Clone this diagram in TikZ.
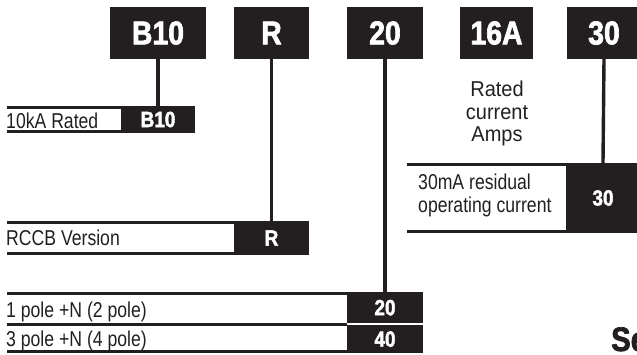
\documentclass[tikz,border=0pt]{standalone}
\usepackage{fontspec}
\setmainfont{Liberation Sans}[FakeStretch=0.82]
\newfontfamily\widefont{Liberation Sans}[FakeStretch=0.93]
\newfontfamily\codefont{Liberation Sans}[FakeStretch=0.86,BoldFeatures={FakeBold=2}]
\usetikzlibrary{calc}
\definecolor{ink}{RGB}{35,31,32}

\begin{document}
\begin{tikzpicture}[x=1pt,y=-1pt,
    codebox/.style={fill=ink, text=white, inner sep=0pt, minimum height=52pt,
      font=\codefont\bfseries\fontsize{33}{33}\selectfont},
    rowbox/.style={fill=ink, text=white, inner sep=0pt,
      font=\codefont\bfseries\fontsize{22}{22}\selectfont},
    rowtext/.style={anchor=base west, inner sep=0pt, text=ink,
      font=\fontsize{21.5}{22}\selectfont},
    rule/.style={draw=ink, line width=3.4pt},
    link/.style={draw=ink, line width=3.4pt}]
    \path[use as bounding box, clip] (0,0) rectangle (637,354);

    % Code boxes along the top
    \node[codebox, minimum width=96pt] (topB) at (158,33) {B10};
    \node[codebox, minimum width=75pt] (topR) at (271.5,33) {R};
    \node[codebox, minimum width=76pt] (top20) at (385,33) {20};
    \node[codebox, minimum width=73pt] (top16A) at (496.5,33) {16A};
    \node[codebox, minimum width=74pt] (top30) at (604,33) {30};

    % Breaking capacity
    \draw[rule] (7,107.7) -- (121,107.7);
    \draw[rule] (7,131.3) -- (121,131.3);
    \node[rowbox, minimum width=74pt, minimum height=27pt] (rowB) at (158,119.5) {B10};
    \node[rowtext] (capText) at (6,128) {10kA Rated};

    % Version
    \draw[rule] (7,222.7) -- (234,222.7);
    \draw[rule] (7,253.3) -- (234,253.3);
    \node[rowbox, minimum width=75pt, minimum height=34pt] (rowR) at (271.5,238) {R};
    \node[rowtext] (verText) at (6,245) {RCCB Version};

    % Poles
    \draw[rule] (7,293.7) -- (347,293.7);
    \draw[rule] (7,324.3) -- (347,324.3);
    \draw[rule] (7,351.5) -- (347,351.5);
    \node[rowbox, minimum width=76pt, minimum height=31.3pt] (row20) at (385,307.65) {20};
    \node[rowbox, minimum width=76pt, minimum height=27.7pt] (row40) at (385,339.15) {40};
    \node[rowtext] (poleA) at (6,317) {1 pole +N (2 pole)};
    \node[rowtext] (poleB) at (6,346.5) {3 pole +N (4 pole)};

    % Rated current
    \node[rowtext, anchor=base, font=\widefont\fontsize{21.5}{22}\selectfont] (amps1) at (497,96.7) {Rated};
    \node[rowtext, anchor=base, font=\widefont\fontsize{21.5}{22}\selectfont] (amps2) at (497,119.2) {current};
    \node[rowtext, anchor=base, font=\widefont\fontsize{21.5}{22}\selectfont] (amps3) at (497,141.7) {Amps};

    % Residual current
    \draw[rule] (407,164.7) -- (566,164.7);
    \draw[rule] (407,231.3) -- (566,231.3);
    \node[rowbox, minimum width=74pt, minimum height=70pt] (row30) at (603,198) {30};
    \node[rowtext] (resA) at (418,189) {30mA residual};
    \node[rowtext] (resB) at (418,212) {operating current};

    % Links
    \draw[link] (topB.south) -- (rowB.north);
    \draw[link] (topR.south) -- (rowR.north);
    \draw[link] (top20.south) -- (row20.north);
    \draw[link] (top30.south) -- (row30.north);

    \node[anchor=base west, inner sep=0pt, text=ink,
      font=\codefont\bfseries\fontsize{34}{34}\selectfont] (seText) at (611,351) {Se};
\end{tikzpicture}
\end{document}
